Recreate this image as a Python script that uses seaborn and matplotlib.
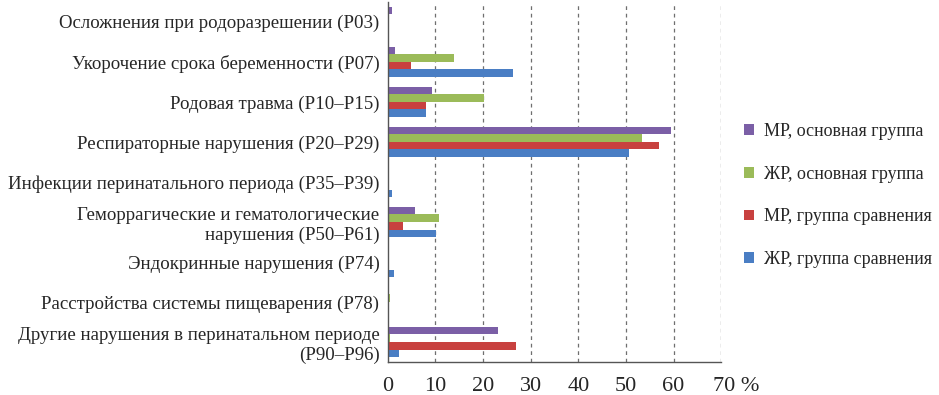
import matplotlib
matplotlib.use("Agg")
import matplotlib.pyplot as plt
import matplotlib.transforms as mtransforms
import seaborn as sns
import pandas as pd
from matplotlib.patches import Patch

categories = [
    "Осложнения при родоразрешении (P03)",
    "Укорочение срока беременности (P07)",
    "Родовая травма (P10–P15)",
    "Респираторные нарушения (P20–P29)",
    "Инфекции перинатального периода (P35–P39)",
    "Геморрагические и гематологические\nнарушения (P50–P61)",
    "Эндокринные нарушения (P74)",
    "Расстройства системы пищеварения (P78)",
    "Другие нарушения в перинатальном периоде\n(P90–P96)",
]
series = ["МР, основная группа", "ЖР, основная группа",
          "МР, группа сравнения", "ЖР, группа сравнения"]
mr_main = [0.8, 1.5, 9.3, 59.5, 0.0, 5.7, 0.0, 0.0, 23.2]
zr_main = [0.0, 14.0, 20.2, 53.3, 0.0, 10.8, 0.0, 0.5, 0.5]
mr_comp = [0.0, 4.8, 8.1, 57.0, 0.0, 3.2, 0.0, 0.0, 26.9]
zr_comp = [0.0, 26.3, 8.1, 50.6, 0.9, 10.2, 1.3, 0.0, 2.3]
xticks = [0, 10, 20, 30, 40, 50, 60, 70]
xticklabels = ["0", "10", "20", "30", "40", "50", "60", "70 %"]
colors = ["#7B5FA6", "#9BBB59", "#C8413F", "#4A7EC4"]

rows = []
for s, vals in zip(series, [mr_main, zr_main, mr_comp, zr_comp]):
    for c, v in zip(categories, vals):
        rows.append({"cat": c, "val": v, "series": s})
df = pd.DataFrame(rows)

sns.set_style("white")
plt.rcParams["font.family"] = ["Liberation Serif", "DejaVu Serif"]

fig = plt.figure(figsize=(9.39, 3.95), dpi=100)
ax = fig.add_axes([0.413, 0.0835, 0.355, 0.912])

sns.barplot(data=df, y="cat", x="val", hue="series", order=categories,
            hue_order=series, palette=colors, orient="h", width=0.76,
            saturation=1, ax=ax, legend=False, linewidth=0)

ax.set_xlim(0, 70)
ax.set_ylim(len(categories) - 0.5, -0.5)
ax.set_xticks(xticks)
ax.set_xticklabels(xticklabels, fontsize=16)
ax.tick_params(axis="y", labelsize=13.6, length=0, pad=6)
ax.tick_params(axis="x", length=0, pad=11)
ax.set_yticks([i - 0.5 for i in range(len(categories) + 1)], minor=True)
ax.tick_params(axis="y", which="minor", length=4, direction="out", color="#555555")
ax.set_xlabel("")
ax.set_ylabel("")

# keep "70" centred on its tick, with the percent sign trailing
last = ax.get_xticklabels()[-1]
last.set_horizontalalignment("left")
last.set_transform(last.get_transform() +
                   mtransforms.ScaledTranslation(-0.085, 0, fig.dpi_scale_trans))

for x in xticks[1:]:
    ax.axvline(x, color="#6f6f6f", linestyle=(0, (3, 3)), linewidth=0.9, zorder=0)

for side in ["top", "right"]:
    ax.spines[side].set_visible(False)
for side in ["left", "bottom"]:
    ax.spines[side].set_color("#555555")
    ax.spines[side].set_linewidth(1.0)

handles = [Patch(facecolor=c, edgecolor="none") for c in colors]
fig.legend(handles, series, loc="center left", bbox_to_anchor=(0.792, 0.505),
           frameon=False, fontsize=13.0, handlelength=0.55, handleheight=0.55,
           handletextpad=0.55, borderaxespad=0, borderpad=0, labelspacing=1.42)

fig.savefig("out.png", dpi=100)
